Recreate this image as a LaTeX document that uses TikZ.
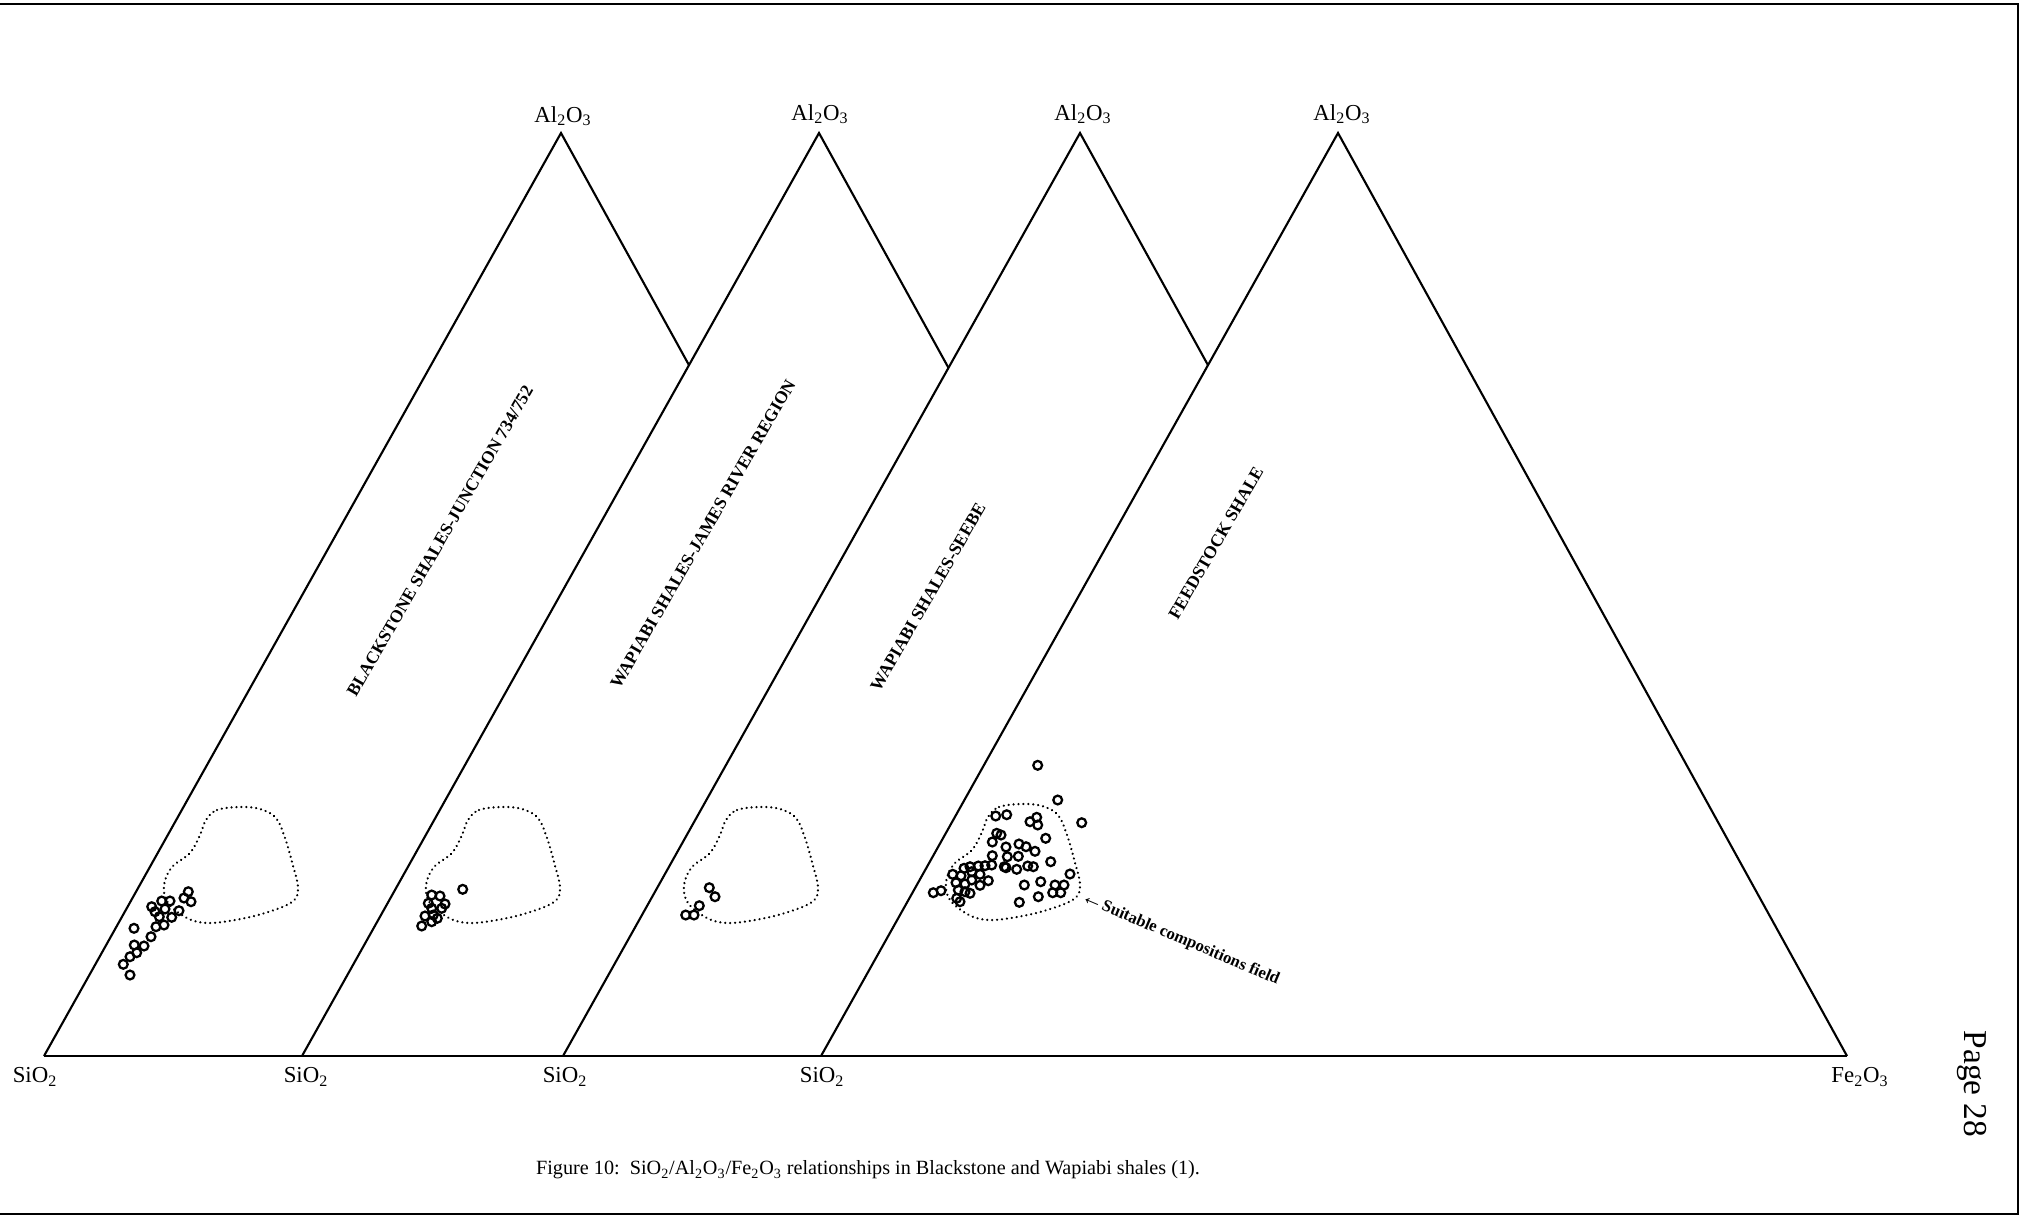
\documentclass[tikz,border=0pt]{standalone}
\usepackage{fontspec}
\setmainfont{Liberation Serif}
\begin{document}
\begin{tikzpicture}[x=0.02cm,y=-0.02cm,
  side/.style={line width=1.2pt,line join=miter},
  frame/.style={line width=1.4pt},
  field/.style={line width=1.4pt,dash pattern=on 0.01pt off 2.8pt,line cap=round},
  pt/.style={line width=1.3pt},
  vlab/.style={font=\fontsize{13}{15}\selectfont,inner sep=0pt},
  tlab/.style={font=\fontsize{10}{12}\selectfont\bfseries,rotate=60,inner sep=0pt},
]
\useasboundingbox (0,0) rectangle (2021,1221);
% frame
\draw[frame] (0,4) -- (2018,4) -- (2018,1214) -- (0,1214);
% vertices
\coordinate (S1) at (44,1056);
\coordinate (S2) at (302,1056);
\coordinate (S3) at (563,1056);
\coordinate (S4) at (821,1056);
\coordinate (F) at (1847,1056);
\coordinate (A1) at (561,133);
\coordinate (A2) at (819,133);
\coordinate (A3) at (1080,133);
\coordinate (A4) at (1338,133);
\coordinate (R1) at (1070,1056);
\coordinate (R2) at (1328,1056);
\coordinate (R3) at (1589,1056);
\coordinate (X1) at (intersection of A1--R1 and S2--A2);
\coordinate (X2) at (intersection of A2--R2 and S3--A3);
\coordinate (X3) at (intersection of A3--R3 and S4--A4);
% triangles
\draw[side] (S1) -- (F);
\draw[side] (S1) -- (A1) -- (X1);
\draw[side] (S2) -- (A2) -- (X2);
\draw[side] (S3) -- (A3) -- (X3);
\draw[side] (S4) -- (A4) -- (F);
% vertex labels
\node[vlab] (lA1) at (563,116) {Al\textsubscript{2}O\textsubscript{3}};
\node[vlab] (lA2) at (820,114) {Al\textsubscript{2}O\textsubscript{3}};
\node[vlab] (lA3) at (1083,114) {Al\textsubscript{2}O\textsubscript{3}};
\node[vlab] (lA4) at (1342,114) {Al\textsubscript{2}O\textsubscript{3}};
\node[vlab] (lS1) at (35,1077) {SiO\textsubscript{2}};
\node[vlab] (lS2) at (306,1077) {SiO\textsubscript{2}};
\node[vlab] (lS3) at (565,1077) {SiO\textsubscript{2}};
\node[vlab] (lS4) at (822,1077) {SiO\textsubscript{2}};
\node[vlab] (lF) at (1860,1077) {Fe\textsubscript{2}O\textsubscript{3}};
% triangle titles
\node[tlab] (t1) at (440,541) {BLACKSTONE SHALES-JUNCTION 734/752};
\node[tlab] (t2) at (703,534) {WAPIABI SHALES-JAMES RIVER REGION};
\node[tlab] (t3) at (928,597) {WAPIABI SHALES-SEEBE};
\node[tlab] (t4) at (1216,543) {FEEDSTOCK SHALE};
% suitable composition fields
\foreach \dx/\dy in {0/0, 262/0, 520/0, 782/-3}{
  \draw[field,shift={(\dx,\dy)}] plot[smooth cycle,tension=0.6] coordinates {
    (206,820) (217,810) (240,807) (260,809) (276,818) (285,838) (292,862)
    (298,888) (292,902) (265,913) (235,920) (207,923) (187,918) (168,903)
    (164,885) (172,867) (190,853) (200,835)};
}
% data points, triangle 1
\foreach \x/\y in {188.3/891.7, 191/901.7, 184/898, 179/910.7, 170/901, 161.7/901,
  151.7/906.7, 155/911.7, 165/909, 159.3/916.7, 171.7/917.3, 164/925, 156/926.7,
  151/936.7, 134/928.3, 144/946, 134.3/945, 136.7/952.7, 130/956.7, 123.3/964.3, 130/975}
  \draw[pt] (\x,\y) circle[radius=2.5pt];
% triangle 2
\foreach \x/\y in {462.7/889.3, 431.7/895, 440/896, 428.3/903.3, 445/904, 431.7/908.3,
  441.7/908.3, 425/916, 433.3/915, 437.3/918.3, 431.7/921.7, 421.7/926}
  \draw[pt] (\x,\y) circle[radius=2.5pt];
% triangle 3
\foreach \x/\y in {709.3/887.7, 715/896.7, 699.3/905.7, 694/915, 685.7/915}
  \draw[pt] (\x,\y) circle[radius=2.5pt];
% triangle 4
\foreach \x/\y in {1037.7/765.3, 1057.7/800, 1081.7/822.7, 995.7/816, 1006.7/814.7,
  1030/821.7, 1036.7/817.3, 1037.7/825, 1045.7/838.3, 996.7/833.3, 1001/835,
  992.3/842, 1006/847, 1019/844, 1026/846.7, 1035/851.3, 992.3/855.7, 1007.3/856.7,
  1018.3/856.3, 1050.7/861.7, 991.7/865, 1006/867.7, 1016.7/869.3, 1027.7/866,
  1033.3/866.7, 1070/874, 952.7/874.3, 961/875.7, 964/868.3, 970/866.7, 978.3/866,
  985/865.7, 971.7/871.7, 980/874.3, 988.3/880.7, 956/882.7, 965/884, 971.7/880,
  980/885.3, 958.3/890, 970/893.3, 956.7/898.3, 960/901.7, 1024.3/885, 1040.7/881.7,
  1055/885, 1064/885, 1052.7/892.7, 1060.7/892.7, 1038.3/896.7, 1019.3/902.3,
  933.3/892.7, 941/890.7, 1004.3/866.7, 965/891.7}
  \draw[pt] (\x,\y) circle[radius=2.5pt];
% field label
\node[font=\fontsize{9.5}{11}\selectfont\bfseries,rotate=-23,inner sep=0pt] (fl) at (1180,939) {{\fontsize{13}{13}\selectfont ←}Suitable compositions field};
% caption and page
\node[font=\fontsize{11.5}{13}\selectfont,inner sep=0pt] (cap) at (868,1170)
  {Figure 10:\ \ SiO\textsubscript{2}/Al\textsubscript{2}O\textsubscript{3}/Fe\textsubscript{2}O\textsubscript{3} relationships in Blackstone and Wapiabi shales (1).};
\node[font=\fontsize{19}{21}\selectfont,rotate=-90,inner sep=0pt] (pg) at (1972,1084) {Page 28};
\end{tikzpicture}
\end{document}
